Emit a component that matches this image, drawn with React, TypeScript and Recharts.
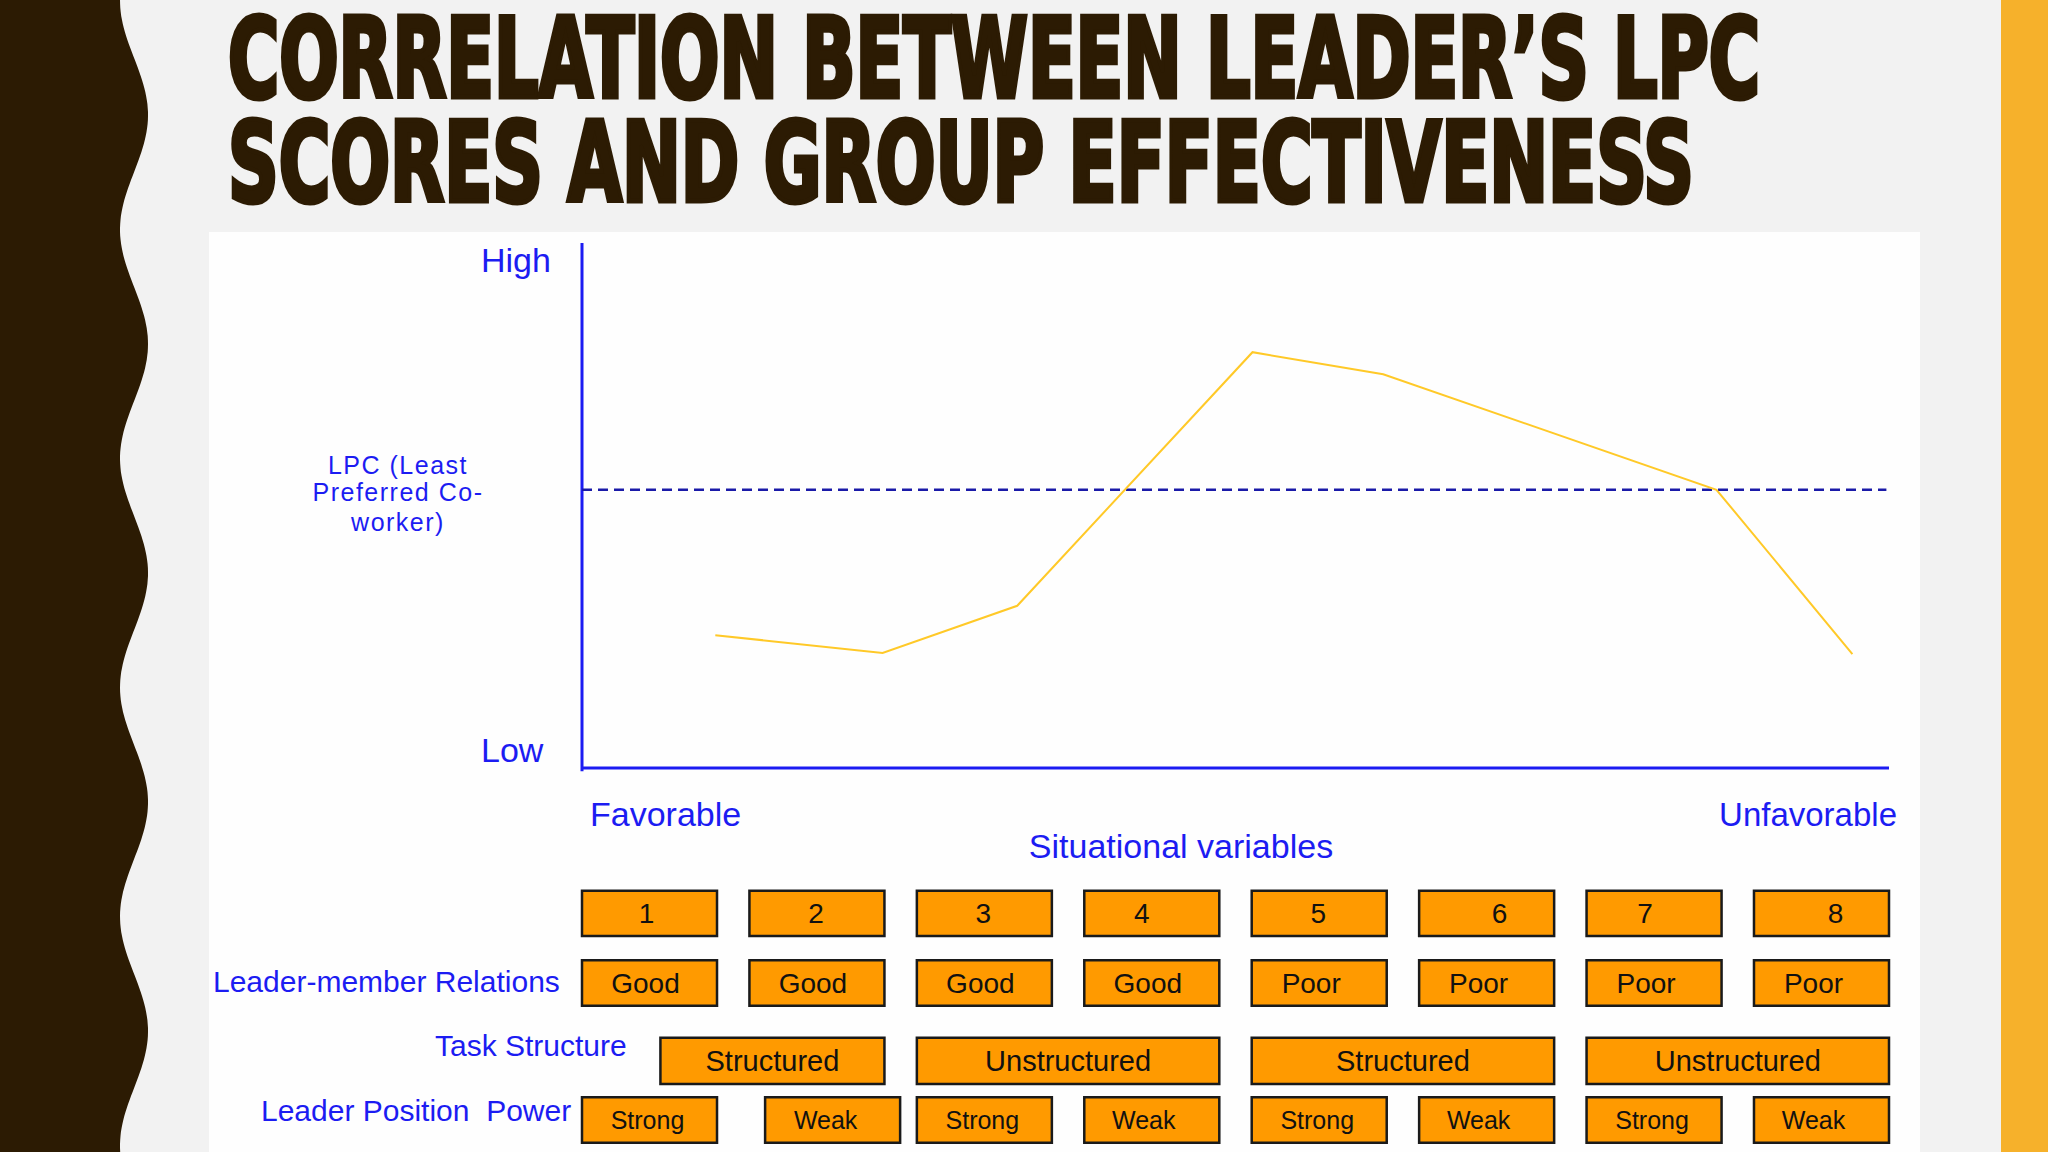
import { LineChart, Line, XAxis, YAxis, ReferenceLine, ReferenceArea } from 'recharts'

// position of each observation along the favourable -> unfavourable continuum (0..100)
const favorability = [10.2, 23.0, 33.3, 51.3, 61.3, 86.8, 97.2];
// LPC score, Low (0) .. High (100)
const lpcScores = [25.3, 21.9, 30.9, 79.2, 75.0, 53.0, 21.7];
const lpcMidpoint = 53;

const situations = ['1', '2', '3', '4', '5', '6', '7', '8'];
const relations = ['Good', 'Good', 'Good', 'Good', 'Poor', 'Poor', 'Poor', 'Poor'];
const taskStructure = ['Structured', 'Unstructured', 'Structured', 'Unstructured'];
const positionPower = ['Strong', 'Weak', 'Strong', 'Weak', 'Strong', 'Weak', 'Strong', 'Weak'];

const lineData = favorability.map((x, i) => ({ x, lpc: lpcScores[i] }));

const FONT = '"Liberation Sans", Arial, sans-serif';
const TITLE_FONT = '"DejaVu Sans Condensed", "DejaVu Sans", sans-serif';
const BLUE = '#1c1cf2';
const ORANGE = '#ff9a00';
const BROWN = '#2c1b03';

// layout of the situation table (chart units)
const COL_STEP = 12.81;
const COL_W = 10.33;
const ROW_SITUATION: [number, number] = [-32.0, -23.4];
const ROW_RELATIONS: [number, number] = [-45.3, -36.6];
const ROW_TASK: [number, number] = [-60.2, -51.4];
const ROW_POWER: [number, number] = [-71.4, -62.7];
const taskInset = [6.0, 0, 0, 0];
const powerNudge = [0, 1.2, 0, 0, 0, 0, 0, 0];
// the original's labels are not quite centred in their boxes (px)
const numberShift = [-3, -1, -1, -10, -1, 13, -9, 14];
const relationShift = [-4, -4, -4, -4, -8, -8, -8, -8];
const powerShift = [-2, -7, -2, -8, -2, -8, -2, -8];

// wavy dark border on the left
const wavePath = (() => {
    let d = 'M0,0';
    for (let y = 0; y <= 1152; y += 4) {
        const x = 134 + 14 * Math.cos((2 * Math.PI * (y - 115)) / 229);
        d += ` L${x.toFixed(1)},${y}`;
    }
    return d + ' L0,1152 Z';
})();

const box = (key: string, x1: number, x2: number, row: [number, number], text: string, size: number, dx = 0) => (
    <ReferenceArea
        key={key}
        x1={x1}
        x2={x2}
        y1={row[0]}
        y2={row[1]}
        fill={ORANGE}
        fillOpacity={1}
        stroke='#1a1a1a'
        strokeWidth={2.5}
        label={{ value: text, position: 'center', fill: '#111', fontSize: size, fontFamily: FONT, dx }}
    />
)

const App = () => {
    return (
        <div style={{ position: 'absolute', left: 0, top: 0, width: 2048, height: 1152, overflow: 'hidden' }}>
            <svg width={2048} height={1152} style={{ position: 'absolute', left: 0, top: 0 }}>
                <rect x={0} y={0} width={2048} height={1152} fill='#f2f2f2' />
                <rect x={209} y={232} width={1711} height={920} fill='#fefefe' />
                <rect x={2001} y={0} width={47} height={1152} fill='#f6b12b' />
                <path d={wavePath} fill={BROWN} />
                <text x={228} y={97} fontFamily={TITLE_FONT} fontStretch='condensed' fontWeight='bold' fontSize={110}
                    textLength={1532} lengthAdjust='spacingAndGlyphs' fill={BROWN} stroke={BROWN} strokeWidth={5}>
                    CORRELATION BETWEEN LEADER’S LPC
                </text>
                <text x={228} y={201} fontFamily={TITLE_FONT} fontStretch='condensed' fontWeight='bold' fontSize={110}
                    textLength={1466} lengthAdjust='spacingAndGlyphs' fill={BROWN} stroke={BROWN} strokeWidth={5}>
                    SCORES AND GROUP EFFECTIVENESS
                </text>
            </svg>
            <div style={{ position: 'absolute', left: 0, top: 0 }}>
                <LineChart width={2048} height={1152} data={lineData}
                    margin={{ top: 243, right: 159, bottom: 6, left: 582 }}>
                    <XAxis type='number' dataKey='x' domain={[0, 100]} hide />
                    <YAxis type='number' domain={[-72, 100]} hide />

                    <ReferenceLine segment={[{ x: 0, y: 0 }, { x: 100, y: 0 }]} stroke={BLUE} strokeWidth={3} />
                    <ReferenceLine segment={[{ x: 0, y: -0.6 }, { x: 0, y: 100 }]} stroke={BLUE} strokeWidth={3} />
                    <ReferenceLine segment={[{ x: 0, y: lpcMidpoint }, { x: 99.8, y: lpcMidpoint }]}
                        stroke='#1a1aa8' strokeWidth={2.5} strokeDasharray='10 6' />

                    {situations.map((s, i) => box('s' + i, i * COL_STEP, i * COL_STEP + COL_W, ROW_SITUATION, s, 28, numberShift[i]))}
                    {relations.map((s, i) => box('r' + i, i * COL_STEP, i * COL_STEP + COL_W, ROW_RELATIONS, s, 28, relationShift[i]))}
                    {taskStructure.map((s, i) => box('t' + i, 2 * i * COL_STEP + taskInset[i], (2 * i + 1) * COL_STEP + COL_W, ROW_TASK, s, 29))}
                    {positionPower.map((s, i) => box('p' + i, i * COL_STEP + powerNudge[i], i * COL_STEP + COL_W + powerNudge[i], ROW_POWER, s, 25, powerShift[i]))}

                    <Line type='linear' dataKey='lpc' stroke='#ffc928' strokeWidth={2} dot={false} isAnimationActive={false} />

                    <g fontFamily={FONT} fill={BLUE} dominantBaseline='central'>
                        <text x={481} y={260} fontSize={34}>High</text>
                        <text x={481} y={750} fontSize={34}>Low</text>
                        <text x={398} y={465} fontSize={25} letterSpacing={1.5} textAnchor='middle'>LPC (Least</text>
                        <text x={398} y={492} fontSize={25} letterSpacing={1.5} textAnchor='middle'>Preferred Co-</text>
                        <text x={398} y={522} fontSize={25} letterSpacing={1.5} textAnchor='middle'>worker)</text>
                        <text x={590} y={814} fontSize={34}>Favorable</text>
                        <text x={1897} y={814} fontSize={33} textAnchor='end'>Unfavorable</text>
                        <text x={1181} y={846} fontSize={34} textAnchor='middle'>Situational variables</text>
                        <text x={213} y={981} fontSize={30}>Leader-member Relations</text>
                        <text x={435} y={1045} fontSize={30}>Task Structure</text>
                        <text x={261} y={1110} fontSize={30} style={{ whiteSpace: 'pre' }}>Leader Position  Power</text>
                    </g>
                </LineChart>
            </div>
        </div>
    )
}

export default App;
